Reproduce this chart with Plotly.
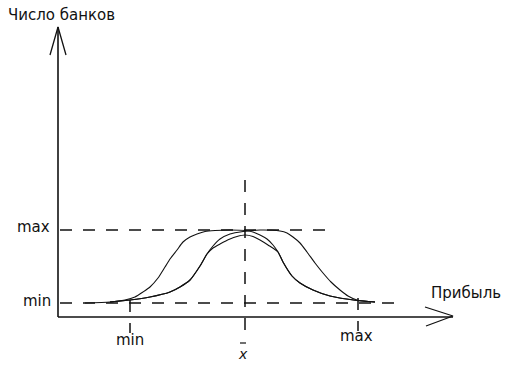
import plotly.graph_objects as go

# ---- data (profit on x, number of banks on y; arbitrary schematic units) ----
# left-shifted curve (steep rise, flat top, gentle decline)
c1_x = [27, 52, 67, 77, 85, 92, 100, 107, 112, 119, 125, 132, 139, 147, 157, 172, 187, 195, 202, 209, 215, 220, 225, 234, 242, 255, 272, 299, 317]
c1_y = [14, 15, 17, 20, 25, 30, 39, 50, 58, 67, 75, 80, 83, 85.5, 86.5, 87, 86.5, 85, 82, 78, 72, 65, 55, 41, 34, 27, 21, 16.5, 15]
# central curve
c2_x = [52, 72, 92, 112, 122, 132, 142, 149, 155, 162, 172, 179, 187, 195, 202, 210, 220, 225, 234, 242, 255, 272, 299, 317]
c2_y = [15, 17, 20, 25, 30, 37, 51, 63, 69, 73, 78, 80.5, 82, 80.5, 77, 72, 65, 55, 41, 34, 27, 21, 16.5, 15]
# right-shifted curve (gentle rise, flat top, steep decline)
c3_x = [52, 72, 92, 112, 122, 132, 142, 149, 155, 162, 172, 185, 202, 222, 229, 235, 242, 249, 257, 265, 273, 282, 290, 299, 317]
c3_y = [15, 17, 20, 25, 30, 37, 51, 63, 71, 78, 83, 85.5, 87, 86, 84, 80, 74, 65, 54, 44, 35, 27, 21, 17, 15]

# reference levels
Y_MIN, Y_MAX = 14, 87
X_MIN, X_BAR, X_MAX = 72, 187, 300

# text labels
y_title = "Число банков"
x_title = "Прибыль"
level_labels = ["max", "min"]
tick_labels = ["min", "x", "max"]

# ---- layout constants ----
X_AXIS_LEN, Y_AXIS_LEN = 395, 290
FONT = "DejaVu Sans"
INK = "#111111"
DASH = "12px,11px"

fig = go.Figure()

def seg(xs, ys, width=1.5, dash="solid", color=INK):
    fig.add_trace(go.Scatter(x=xs, y=ys, mode="lines", hoverinfo="skip",
                             line=dict(color=color, width=width, dash=dash),
                             showlegend=False))

# dashed guide lines
seg([2, 277], [Y_MAX, Y_MAX], dash=DASH)
seg([2, 337], [Y_MIN, Y_MIN], dash=DASH)
seg([X_BAR, X_BAR], [137, -18], dash=DASH)
seg([X_MIN, X_MIN], [17, -16], dash=DASH)
seg([X_MAX, X_MAX], [19, -14], dash=DASH)

# curves
for cx, cy in [(c1_x, c1_y), (c2_x, c2_y), (c3_x, c3_y)]:
    fig.add_trace(go.Scatter(x=cx, y=cy, mode="lines", hoverinfo="skip",
                             line=dict(color=INK, width=1.1, shape="spline", smoothing=0.6),
                             showlegend=False))

# axes with open arrow heads
seg([0, X_AXIS_LEN], [0, 0], width=1.6)
seg([0, 0], [0, Y_AXIS_LEN], width=1.6)
seg([X_AXIS_LEN - 28, X_AXIS_LEN, X_AXIS_LEN - 27], [10, 1, -9], width=1.3)
seg([-8, 0, 8], [Y_AXIS_LEN - 28, Y_AXIS_LEN, Y_AXIS_LEN - 28], width=1.3)

# x-bar overline
seg([X_BAR - 5, X_BAR + 1], [-26, -26], width=1.2)

def txt(x, y, s, xanchor="center", size=15, italic=False):
    fig.add_annotation(x=x, y=y, text=("<i>%s</i>" % s) if italic else s,
                       showarrow=False, xanchor=xanchor, yanchor="middle",
                       font=dict(family=FONT, size=size, color=INK))

txt(-52, 302, y_title, xanchor="left")
txt(408, 24, x_title)
txt(-25, 90, level_labels[0])
txt(-21, 16, level_labels[1])
txt(X_MIN, -23, tick_labels[0])
txt(X_BAR - 2, -37, tick_labels[1], size=14, italic=True)
txt(X_MAX - 2, -19, tick_labels[2])

fig.update_layout(
    width=511, height=365,
    margin=dict(l=0, r=0, t=0, b=0),
    paper_bgcolor="white", plot_bgcolor="white",
    xaxis=dict(range=[-58, 453], visible=False, fixedrange=True),
    yaxis=dict(range=[-48, 317], visible=False, fixedrange=True),
)

fig.write_html("out.html", config={"displayModeBar": False},
               post_script="document.body.style.margin='0';document.body.style.overflow='hidden';")
